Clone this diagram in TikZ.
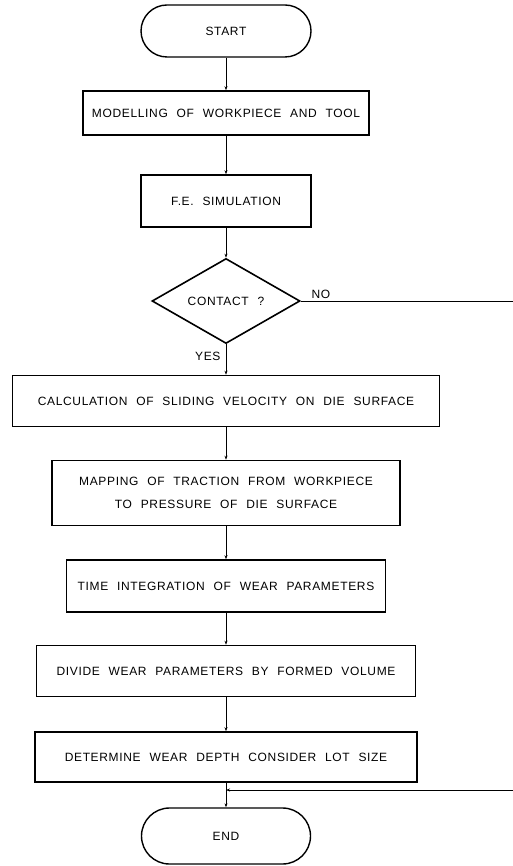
\documentclass[tikz,border=0pt]{standalone}
\usepackage{fontspec}
\newfontfamily\chartfont[LetterSpace=5.5,WordSpace=2.2]{Liberation Sans}
\usetikzlibrary{shapes.geometric, arrows.meta, calc}

\begin{document}
\begin{tikzpicture}[x=1pt, y=-1pt,
    font=\chartfont\fontsize{12}{23}\selectfont,
    stepbox/.style={draw, line width=1.6pt, rectangle, inner sep=0pt, align=center},
    termbox/.style={draw, line width=1.4pt, rectangle, rounded corners=26pt, inner sep=0pt},
    testbox/.style={draw, line width=1.6pt, diamond, inner sep=0pt},
    flow/.style={line width=0.6pt, -{Stealth[length=4pt,width=3pt]}},
    plain/.style={line width=0.6pt}]
\useasboundingbox (0,0) rectangle (513,866);

% Start
\node[termbox, minimum width=170pt, minimum height=52pt] (start) at (226,31) {START};

% Model and simulation
\node[stepbox, minimum width=286pt, minimum height=44pt] (model) at (226,113) {MODELLING OF WORKPIECE AND TOOL};
\node[stepbox, minimum width=170pt, minimum height=52pt] (fesim) at (226,201) {F.E. SIMULATION};

% Contact check
\node[testbox, minimum width=148pt, minimum height=82pt] (contact) at (226,301) {CONTACT ?};
\node[anchor=south west] (nolbl) at (308,302) {NO};
\node[anchor=east] (yeslbl) at (224,356) {YES};

% Wear steps
\node[stepbox, minimum width=427pt, minimum height=51pt] (slide) at (226,401) {CALCULATION OF SLIDING VELOCITY ON DIE SURFACE};
\node[stepbox, minimum width=348pt, minimum height=65pt] (mapping) at (226,493) {MAPPING OF TRACTION FROM WORKPIECE\\TO PRESSURE OF DIE SURFACE};
\node[stepbox, minimum width=319pt, minimum height=52pt] (timeint) at (226,586) {TIME INTEGRATION OF WEAR PARAMETERS};
\node[stepbox, minimum width=379pt, minimum height=51pt] (divide) at (226,671) {DIVIDE WEAR PARAMETERS BY FORMED VOLUME};
\node[stepbox, minimum width=382pt, minimum height=50pt] (depth) at (226,757) {DETERMINE WEAR DEPTH CONSIDER LOT SIZE};

% End
\node[termbox, minimum width=169pt, minimum height=56pt, rounded corners=28pt] (finish) at (226,836) {END};

% Connectors
\draw[flow] (start) -- (model);
\draw[flow] (model) -- (fesim);
\draw[flow] (fesim) -- (contact);
\draw[flow] (contact) -- (slide);
\draw[flow] (slide) -- (mapping);
\draw[flow] (mapping) -- (timeint);
\draw[flow] (timeint) -- (divide);
\draw[flow] (divide) -- (depth);
\draw[flow] (depth) -- (finish);

% No contact branch
\coordinate (noout) at (513,301);
\coordinate (backin) at (513,790);
\draw[plain] (contact.east) -- (noout);
\draw[flow] (backin) -- (backin -| finish.north);
\end{tikzpicture}
\end{document}
